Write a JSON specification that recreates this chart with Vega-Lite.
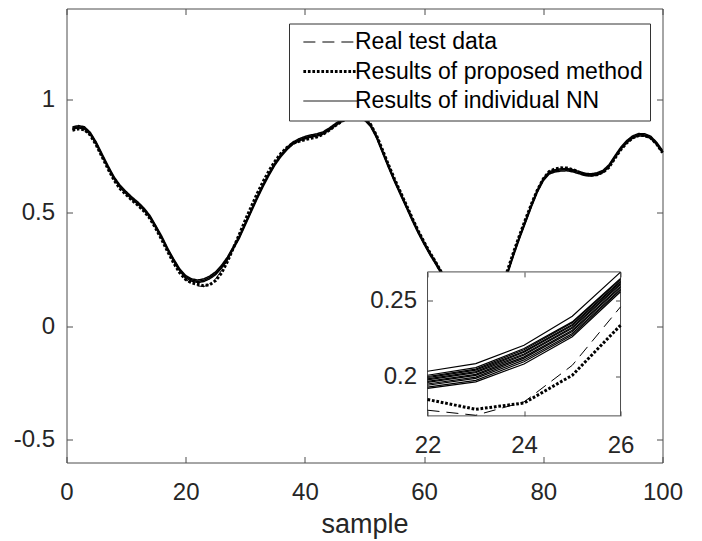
{
  "$schema": "https://vega.github.io/schema/vega-lite/v6.json",
  "width": 596,
  "height": 454,
  "autosize": {"type": "none"},
  "padding": {"left": 66.5, "top": 8.5, "right": 39.5, "bottom": 78.5},
  "background": "white",
  "datasets": {
    "main": [
      {"x":1,"r":0.873,"p":0.864,"a":0.878,"b":0.873,"c":0.868},
      {"x":2,"r":0.879,"p":0.870,"a":0.884,"b":0.879,"c":0.874},
      {"x":3,"r":0.872,"p":0.866,"a":0.879,"b":0.874,"c":0.869},
      {"x":4,"r":0.846,"p":0.842,"a":0.854,"b":0.849,"c":0.844},
      {"x":5,"r":0.803,"p":0.798,"a":0.811,"b":0.806,"c":0.801},
      {"x":6,"r":0.750,"p":0.745,"a":0.758,"b":0.753,"c":0.748},
      {"x":7,"r":0.698,"p":0.692,"a":0.706,"b":0.701,"c":0.696},
      {"x":8,"r":0.651,"p":0.643,"a":0.658,"b":0.653,"c":0.648},
      {"x":9,"r":0.613,"p":0.606,"a":0.621,"b":0.616,"c":0.611},
      {"x":10,"r":0.586,"p":0.580,"a":0.594,"b":0.589,"c":0.584},
      {"x":11,"r":0.560,"p":0.555,"a":0.569,"b":0.564,"c":0.559},
      {"x":12,"r":0.538,"p":0.533,"a":0.547,"b":0.542,"c":0.537},
      {"x":13,"r":0.512,"p":0.507,"a":0.521,"b":0.516,"c":0.511},
      {"x":14,"r":0.480,"p":0.475,"a":0.488,"b":0.483,"c":0.478},
      {"x":15,"r":0.436,"p":0.430,"a":0.443,"b":0.438,"c":0.433},
      {"x":16,"r":0.389,"p":0.381,"a":0.396,"b":0.391,"c":0.386},
      {"x":17,"r":0.335,"p":0.328,"a":0.343,"b":0.338,"c":0.333},
      {"x":18,"r":0.286,"p":0.278,"a":0.296,"b":0.291,"c":0.286},
      {"x":19,"r":0.241,"p":0.236,"a":0.253,"b":0.248,"c":0.243},
      {"x":20,"r":0.207,"p":0.206,"a":0.224,"b":0.219,"c":0.214},
      {"x":21,"r":0.188,"p":0.191,"a":0.209,"b":0.204,"c":0.199},
      {"x":22,"r":0.178,"p":0.185,"a":0.2037,"b":0.198,"c":0.193},
      {"x":23,"r":0.175,"p":0.179,"a":0.2087,"b":0.202,"c":0.197},
      {"x":24,"r":0.184,"p":0.183,"a":0.2207,"b":0.215,"c":0.209},
      {"x":25,"r":0.208,"p":0.201,"a":0.2396,"b":0.233,"c":0.227},
      {"x":26,"r":0.246,"p":0.234,"a":0.2684,"b":0.261,"c":0.256},
      {"x":27,"r":0.292,"p":0.285,"a":0.305,"b":0.299,"c":0.294},
      {"x":28,"r":0.342,"p":0.345,"a":0.351,"b":0.346,"c":0.341},
      {"x":29,"r":0.391,"p":0.405,"a":0.398,"b":0.393,"c":0.388},
      {"x":30,"r":0.450,"p":0.468,"a":0.456,"b":0.451,"c":0.446},
      {"x":31,"r":0.509,"p":0.527,"a":0.514,"b":0.509,"c":0.504},
      {"x":32,"r":0.567,"p":0.585,"a":0.572,"b":0.567,"c":0.562},
      {"x":33,"r":0.621,"p":0.638,"a":0.626,"b":0.621,"c":0.616},
      {"x":34,"r":0.671,"p":0.686,"a":0.676,"b":0.671,"c":0.666},
      {"x":35,"r":0.716,"p":0.728,"a":0.721,"b":0.716,"c":0.711},
      {"x":36,"r":0.753,"p":0.762,"a":0.758,"b":0.753,"c":0.748},
      {"x":37,"r":0.783,"p":0.788,"a":0.788,"b":0.783,"c":0.778},
      {"x":38,"r":0.806,"p":0.806,"a":0.812,"b":0.807,"c":0.802},
      {"x":39,"r":0.819,"p":0.815,"a":0.826,"b":0.821,"c":0.816},
      {"x":40,"r":0.829,"p":0.822,"a":0.836,"b":0.831,"c":0.826},
      {"x":41,"r":0.835,"p":0.828,"a":0.843,"b":0.838,"c":0.833},
      {"x":42,"r":0.840,"p":0.834,"a":0.848,"b":0.843,"c":0.838},
      {"x":43,"r":0.848,"p":0.845,"a":0.856,"b":0.851,"c":0.846},
      {"x":44,"r":0.864,"p":0.862,"a":0.872,"b":0.867,"c":0.862},
      {"x":45,"r":0.884,"p":0.882,"a":0.891,"b":0.886,"c":0.881},
      {"x":46,"r":0.902,"p":0.900,"a":0.909,"b":0.904,"c":0.899},
      {"x":47,"r":0.916,"p":0.914,"a":0.922,"b":0.917,"c":0.912},
      {"x":48,"r":0.924,"p":0.922,"a":0.930,"b":0.925,"c":0.920},
      {"x":49,"r":0.926,"p":0.924,"a":0.931,"b":0.926,"c":0.921},
      {"x":50,"r":0.913,"p":0.915,"a":0.918,"b":0.913,"c":0.908},
      {"x":51,"r":0.886,"p":0.890,"a":0.891,"b":0.886,"c":0.881},
      {"x":52,"r":0.836,"p":0.842,"a":0.841,"b":0.836,"c":0.831},
      {"x":53,"r":0.771,"p":0.778,"a":0.776,"b":0.771,"c":0.766},
      {"x":54,"r":0.706,"p":0.713,"a":0.711,"b":0.706,"c":0.701},
      {"x":55,"r":0.644,"p":0.651,"a":0.649,"b":0.644,"c":0.639},
      {"x":56,"r":0.586,"p":0.593,"a":0.591,"b":0.586,"c":0.581},
      {"x":57,"r":0.529,"p":0.535,"a":0.534,"b":0.529,"c":0.524},
      {"x":58,"r":0.471,"p":0.477,"a":0.476,"b":0.471,"c":0.466},
      {"x":59,"r":0.416,"p":0.421,"a":0.421,"b":0.416,"c":0.411},
      {"x":60,"r":0.366,"p":0.371,"a":0.371,"b":0.366,"c":0.361},
      {"x":61,"r":0.319,"p":0.323,"a":0.324,"b":0.319,"c":0.314},
      {"x":62,"r":0.276,"p":0.280,"a":0.281,"b":0.276,"c":0.271},
      {"x":63,"r":0.231,"p":0.234,"a":0.236,"b":0.231,"c":0.226},
      {"x":64,"r":0.186,"p":0.188,"a":0.191,"b":0.186,"c":0.181},
      {"x":65,"r":0.146,"p":0.147,"a":0.151,"b":0.146,"c":0.141},
      {"x":66,"r":0.106,"p":0.108,"a":0.111,"b":0.106,"c":0.101},
      {"x":67,"r":0.076,"p":0.078,"a":0.081,"b":0.076,"c":0.071},
      {"x":68,"r":0.056,"p":0.058,"a":0.061,"b":0.056,"c":0.051},
      {"x":69,"r":0.051,"p":0.055,"a":0.056,"b":0.051,"c":0.046},
      {"x":70,"r":0.061,"p":0.068,"a":0.066,"b":0.061,"c":0.056},
      {"x":71,"r":0.086,"p":0.095,"a":0.091,"b":0.086,"c":0.081},
      {"x":72,"r":0.121,"p":0.132,"a":0.126,"b":0.121,"c":0.116},
      {"x":73,"r":0.171,"p":0.182,"a":0.176,"b":0.171,"c":0.166},
      {"x":74,"r":0.236,"p":0.247,"a":0.241,"b":0.236,"c":0.231},
      {"x":75,"r":0.316,"p":0.326,"a":0.321,"b":0.316,"c":0.311},
      {"x":76,"r":0.391,"p":0.400,"a":0.396,"b":0.391,"c":0.386},
      {"x":77,"r":0.461,"p":0.470,"a":0.466,"b":0.461,"c":0.456},
      {"x":78,"r":0.531,"p":0.538,"a":0.536,"b":0.531,"c":0.526},
      {"x":79,"r":0.596,"p":0.600,"a":0.601,"b":0.596,"c":0.591},
      {"x":80,"r":0.646,"p":0.650,"a":0.651,"b":0.646,"c":0.641},
      {"x":81,"r":0.676,"p":0.682,"a":0.681,"b":0.676,"c":0.671},
      {"x":82,"r":0.686,"p":0.694,"a":0.690,"b":0.685,"c":0.680},
      {"x":83,"r":0.690,"p":0.698,"a":0.694,"b":0.689,"c":0.684},
      {"x":84,"r":0.691,"p":0.697,"a":0.695,"b":0.690,"c":0.685},
      {"x":85,"r":0.686,"p":0.690,"a":0.690,"b":0.685,"c":0.680},
      {"x":86,"r":0.677,"p":0.679,"a":0.682,"b":0.677,"c":0.672},
      {"x":87,"r":0.668,"p":0.669,"a":0.674,"b":0.669,"c":0.664},
      {"x":88,"r":0.665,"p":0.665,"a":0.672,"b":0.667,"c":0.662},
      {"x":89,"r":0.669,"p":0.668,"a":0.676,"b":0.671,"c":0.666},
      {"x":90,"r":0.680,"p":0.678,"a":0.687,"b":0.682,"c":0.677},
      {"x":91,"r":0.704,"p":0.700,"a":0.711,"b":0.706,"c":0.701},
      {"x":92,"r":0.744,"p":0.740,"a":0.751,"b":0.746,"c":0.741},
      {"x":93,"r":0.782,"p":0.778,"a":0.789,"b":0.784,"c":0.779},
      {"x":94,"r":0.811,"p":0.808,"a":0.818,"b":0.813,"c":0.808},
      {"x":95,"r":0.832,"p":0.830,"a":0.839,"b":0.834,"c":0.829},
      {"x":96,"r":0.842,"p":0.840,"a":0.849,"b":0.844,"c":0.839},
      {"x":97,"r":0.841,"p":0.840,"a":0.848,"b":0.843,"c":0.838},
      {"x":98,"r":0.831,"p":0.830,"a":0.838,"b":0.833,"c":0.828},
      {"x":99,"r":0.804,"p":0.803,"a":0.811,"b":0.806,"c":0.801},
      {"x":100,"r":0.768,"p":0.765,"a":0.775,"b":0.770,"c":0.765}
    ],
    "inset": [
      {"x":22,"r":0.1783,"p":0.1853,"n1":0.2037,"n2":0.2011,"n3":0.2002,"n4":0.1996,"n5":0.1987,"n6":0.1981,"n7":0.1971,"n8":0.1965,"n9":0.1954,"n10":0.1946,"n11":0.1934,"n12":0.1925},
      {"x":23,"r":0.1750,"p":0.1789,"n1":0.2087,"n2":0.2061,"n3":0.2051,"n4":0.2045,"n5":0.2035,"n6":0.2028,"n7":0.2017,"n8":0.2010,"n9":0.1999,"n10":0.1991,"n11":0.1978,"n12":0.1968},
      {"x":24,"r":0.1837,"p":0.1830,"n1":0.2207,"n2":0.2185,"n3":0.2177,"n4":0.2167,"n5":0.2161,"n6":0.2150,"n7":0.2143,"n8":0.2131,"n9":0.2123,"n10":0.2111,"n11":0.2099,"n12":0.2084},
      {"x":25,"r":0.2076,"p":0.2011,"n1":0.2396,"n2":0.2359,"n3":0.2353,"n4":0.2342,"n5":0.2335,"n6":0.2324,"n7":0.2317,"n8":0.2305,"n9":0.2296,"n10":0.2283,"n11":0.2273,"n12":0.2262},
      {"x":26,"r":0.2457,"p":0.2337,"n1":0.2684,"n2":0.2642,"n3":0.2635,"n4":0.2625,"n5":0.2619,"n6":0.2609,"n7":0.2602,"n8":0.2591,"n9":0.2584,"n10":0.2573,"n11":0.2566,"n12":0.2556}
    ]
  },
  "config": {
    "view": {"stroke": "#4d4d4d", "strokeWidth": 1},
    "axis": {
      "labelFont": "Liberation Sans", "labelFontSize": 24, "labelColor": "#262626", "labelFlush": false,
      "titleFont": "Liberation Sans", "titleFontSize": 27, "titleFontWeight": "normal", "titleColor": "#262626",
      "tickColor": "#4d4d4d", "tickWidth": 1, "tickSize": -6, "domain": false, "grid": false
    }
  },
  "layer": [
    {
      "layer": [
        {
          "data": {"name": "main"},
          "transform": [{"fold": ["a", "b", "c"], "as": ["k", "v"]}],
          "mark": {"type": "line", "color": "black", "strokeWidth": 1.5},
          "encoding": {
            "x": {"field": "x", "type": "quantitative", "scale": {"domain": [0, 100], "nice": false, "zero": false},
                  "axis": {"orient": "bottom", "values": [0, 20, 40, 60, 80, 100], "title": "sample", "labelPadding": 24, "titlePadding": 7}},
            "y": {"field": "v", "type": "quantitative", "scale": {"domain": [-0.6, 1.4], "nice": false, "zero": false},
                  "axis": {"orient": "left", "values": [-0.5, 0, 0.5, 1], "title": null, "labelPadding": 18, "labelExpr": "'' + datum.value"}},
            "detail": {"field": "k"},
            "strokeDash": {
              "datum": "Results of individual NN", "type": "nominal",
              "scale": {"domain": ["Real test data", "Results of proposed method", "Results of individual NN"], "range": [[12, 7], [2.7, 1.8], [1, 0]]},
              "legend": {
                "orient": "none", "legendX": 222.5, "legendY": 15, "title": null,
                "labelFont": "Liberation Sans", "labelFontSize": 23, "labelColor": "black", "labelLimit": 400,
                "symbolType": "M-1.5,0H18.5", "symbolSize": 30.25, "symbolStrokeColor": "black", "symbolStrokeWidth": 1,
                "padding": 7, "rowPadding": 5.5, "labelOffset": 36,
                "strokeColor": "#333333", "fillColor": "white",
                "encode": {"symbols": {"update": {"strokeWidth": {"signal": "datum.value === 'Results of proposed method' ? 3 : 1"}}}}
              }
            }
          }
        },
        {
          "data": {"name": "main"},
          "mark": {"type": "line", "color": "black", "strokeWidth": 1},
          "encoding": {
            "x": {"field": "x", "type": "quantitative", "axis": null},
            "y": {"field": "r", "type": "quantitative", "axis": null},
            "strokeDash": {"datum": "Real test data", "type": "nominal"}
          }
        },
        {
          "data": {"name": "main"},
          "mark": {"type": "line", "color": "black", "strokeWidth": 3},
          "encoding": {
            "x": {"field": "x", "type": "quantitative", "axis": null},
            "y": {"field": "p", "type": "quantitative", "axis": null},
            "strokeDash": {"datum": "Results of proposed method", "type": "nominal"}
          }
        },
        {
          "data": {"name": "main"},
          "mark": {"type": "line", "opacity": 0},
          "encoding": {
            "x": {"field": "x", "type": "quantitative", "axis": {"orient": "top", "values": [0, 20, 40, 60, 80, 100], "labels": false, "title": null}},
            "y": {"field": "r", "type": "quantitative", "axis": {"orient": "right", "values": [-0.5, 0, 0.5, 1], "labels": false, "title": null}}
          }
        }
      ],
      "resolve": {"axis": {"x": "independent", "y": "independent"}}
    },
    {
      "layer": [
        {
          "data": {"values": [{}]},
          "mark": {"type": "rect", "fill": "white", "stroke": "#4d4d4d", "strokeWidth": 1},
          "encoding": {
            "x": {"datum": 22, "type": "quantitative", "scale": {"domain": [14.518, 26.87], "nice": false, "zero": false},
                  "axis": {"orient": "bottom", "offset": -46.6, "values": [22, 24, 26], "title": null, "zindex": 1, "tickSize": -5, "labelPadding": 23}},
            "x2": {"datum": 26},
            "y": {"datum": 0.1746, "type": "quantitative", "scale": {"domain": [0.1442, 0.4403], "nice": false, "zero": false},
                  "axis": {"orient": "left", "offset": -361, "values": [0.2, 0.25], "title": null, "zindex": 1, "tickSize": -5, "labelPadding": 16, "labelExpr": "'' + datum.value"}},
            "y2": {"datum": 0.2685}
          }
        },
        {
          "data": {"name": "inset"},
          "transform": [{"fold": ["n1", "n2", "n3", "n4", "n5", "n6", "n7", "n8", "n9", "n10", "n11", "n12"], "as": ["k", "v"]}],
          "mark": {"type": "line", "color": "black", "strokeWidth": 1.2},
          "encoding": {
            "x": {"field": "x", "type": "quantitative", "axis": null},
            "y": {"field": "v", "type": "quantitative", "axis": null},
            "detail": {"field": "k"}
          }
        },
        {
          "data": {"name": "inset"},
          "mark": {"type": "line", "color": "black", "strokeWidth": 1, "strokeDash": [12, 7]},
          "encoding": {
            "x": {"field": "x", "type": "quantitative", "axis": null},
            "y": {"field": "r", "type": "quantitative", "axis": null}
          }
        },
        {
          "data": {"name": "inset"},
          "mark": {"type": "line", "color": "black", "strokeWidth": 3, "strokeDash": [2.7, 1.8]},
          "encoding": {
            "x": {"field": "x", "type": "quantitative", "axis": null},
            "y": {"field": "p", "type": "quantitative", "axis": null}
          }
        },
        {
          "data": {"name": "inset"},
          "mark": {"type": "line", "opacity": 0},
          "encoding": {
            "x": {"field": "x", "type": "quantitative", "axis": {"orient": "top", "offset": -263.4, "values": [22, 24, 26], "labels": false, "title": null, "zindex": 1, "tickSize": -5}},
            "y": {"field": "r", "type": "quantitative", "axis": {"orient": "right", "offset": -42, "values": [0.2, 0.25], "labels": false, "title": null, "zindex": 1, "tickSize": -5}}
          }
        }
      ],
      "resolve": {"axis": {"x": "independent", "y": "independent"}}
    }
  ],
  "resolve": {"scale": {"x": "independent", "y": "independent"}, "axis": {"x": "independent", "y": "independent"}}
}
